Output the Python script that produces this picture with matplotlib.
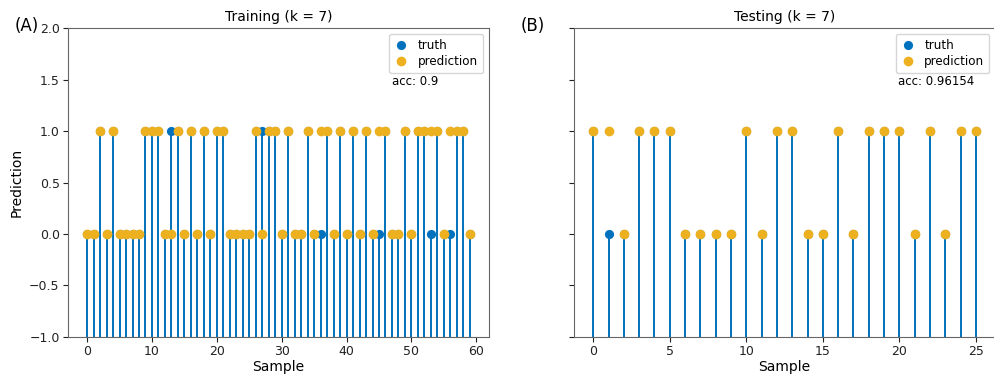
import numpy as np
import matplotlib
matplotlib.use('Agg')
import matplotlib.pyplot as plt

# Training panel (60 samples)
train_pred = [0, 0, 1, 0, 1, 0, 0, 0, 0, 1, 1, 1, 0, 0, 1, 0, 1, 0, 1, 0,
              1, 1, 0, 0, 0, 0, 1, 0, 1, 1, 0, 1, 0, 0, 1, 0, 1, 1, 0, 1,
              0, 1, 0, 1, 0, 1, 1, 0, 0, 1, 0, 1, 1, 1, 1, 0, 1, 1, 1, 0]
train_wrong = [13, 27, 36, 45, 53, 56]
train_acc = "0.9"

# Testing panel (26 samples)
test_pred = [1, 1, 0, 1, 1, 1, 0, 0, 0, 0, 1, 0, 1, 1, 0, 0, 1, 0, 1, 1,
             1, 0, 1, 0, 1, 1]
test_wrong = [1]
test_acc = "0.96154"

titles = ['Training (k = 7)', 'Testing (k = 7)']
panel_tags = ['(A)', '(B)']

BLUE = '#0072BD'
YELLOW = '#EDB120'
SPINE = '#666666'


def truth_from(pred, wrong):
    truth = list(pred)
    for i in wrong:
        truth[i] = 1 - truth[i]
    return truth


fig = plt.figure(figsize=(9.95, 3.74), dpi=100)
ax1 = fig.add_axes([0.0683, 0.099, 0.4231, 0.826])
ax2 = fig.add_axes([0.577, 0.099, 0.4231, 0.826], sharey=ax1)

datasets = [(train_pred, train_wrong, train_acc), (test_pred, test_wrong, test_acc)]
for ax, (pred, wrong, acc), title, tag in zip([ax1, ax2], datasets, titles, panel_tags):
    truth = truth_from(pred, wrong)
    x = np.arange(len(pred))
    ax.vlines(x, -1, truth, color=BLUE, lw=1.4, zorder=2)
    ax.plot(x, truth, 'o', color=BLUE, ms=6.6, mew=0, label='truth', zorder=3)
    ax.plot(x, pred, 'o', color=YELLOW, ms=7.0, mew=0, label='prediction', zorder=4)
    ax.set_ylim(-1, 2)
    ax.set_yticks(np.arange(-1, 2.01, 0.5))
    ax.margins(x=0.05)
    ax.set_title(title, fontsize=10, pad=5)
    ax.set_xlabel('Sample', fontsize=10, labelpad=1)
    for s in ax.spines.values():
        s.set_color(SPINE)
    ax.tick_params(colors='#222222', labelsize=9, pad=2.5)
    ax.legend(loc='upper right', fontsize=8.6, handletextpad=0.8,
              borderpad=0.4, labelspacing=0.3, handlelength=1.2)
    ax.text(0.77, 0.828, f'acc: {acc}', transform=ax.transAxes, fontsize=8.5, va='center')
    fig.text(ax.get_position().x0 - 0.054, 0.93, tag, fontsize=12, va='center')

ax1.set_ylabel('Prediction', fontsize=10, labelpad=4)
ax1.set_xticks(np.arange(0, 61, 10))
ax2.set_xticks(np.arange(0, 26, 5))
plt.setp(ax2.get_yticklabels(), visible=False)

fig.savefig('out.png', dpi=100)
